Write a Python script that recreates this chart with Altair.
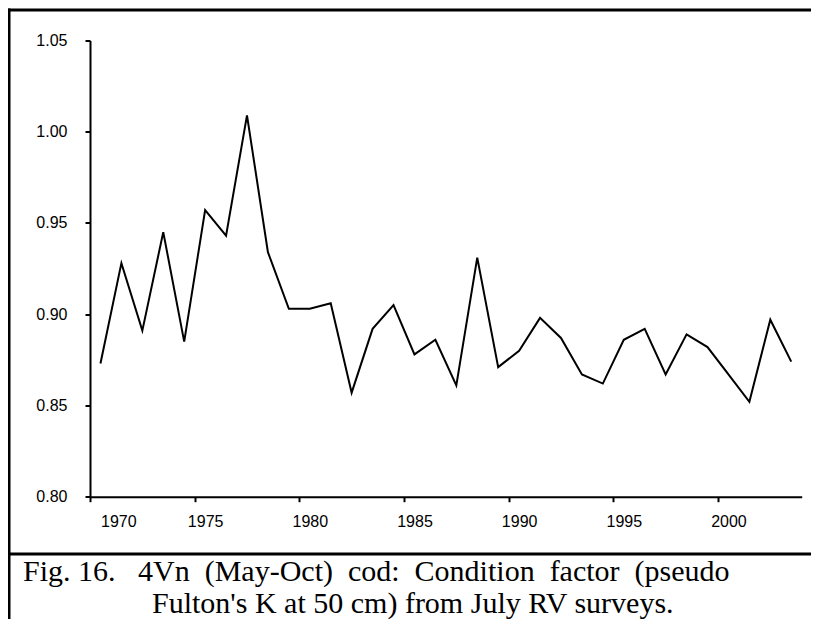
import altair as alt
import pandas as pd

years = list(range(1970, 2004))
k_values = [0.873, 0.928, 0.891, 0.945, 0.885, 0.957, 0.943, 1.009, 0.934, 0.903,
            0.903, 0.906, 0.857, 0.892, 0.905, 0.878, 0.886, 0.861, 0.931, 0.871,
            0.880, 0.898, 0.887, 0.867, 0.862, 0.886, 0.892, 0.867, 0.889, 0.882,
            0.867, 0.852, 0.897, 0.874]
y_ticks = [0.80, 0.85, 0.90, 0.95, 1.00, 1.05]
x_ticks = [1970, 1975, 1980, 1985, 1990, 1995, 2000]
# first caption line is justified in the source, hence the wider word gaps
G = "\u2002"
caption_lines = ["Fig. 16.\u2002 4Vn" + G + "(May-Oct)" + G + "cod:" + G + "Condition"
                 + G + "factor" + G + "(pseudo",
                 "Fulton's K at 50 cm) from July RV surveys."]

df = pd.DataFrame({"year": years, "k": k_values})
df["xpos"] = df["year"] + 0.5

W, H = 711.7, 456.2
AXFONT = "Liberation Sans, Arial, Helvetica"

line = alt.Chart(df).mark_line(color="black", strokeWidth=2).encode(
    x=alt.X("xpos:Q", scale=alt.Scale(domain=[1970, 2004], nice=False, zero=False),
            axis=alt.Axis(values=x_ticks, format="d", title=None, grid=False,
                          tickSize=5, labelOffset=10.5, labelPadding=12,
                          domainColor="black", domainWidth=2, tickColor="black",
                          tickWidth=2, labelColor="black", labelFontSize=16,
                          labelFont=AXFONT)),
    y=alt.Y("k:Q", scale=alt.Scale(domain=[0.80, 1.05], nice=False, zero=False),
            axis=alt.Axis(values=y_ticks, format=".2f", title=None, grid=False,
                          tickSize=5, labelPadding=18,
                          domainColor="black", domainWidth=2, tickColor="black",
                          tickWidth=2, labelColor="black", labelFontSize=16,
                          labelFont=AXFONT)),
)

# page frame (left edge, top edge, separator above the caption), in pixels
frame_df = pd.DataFrame({
    "fx1": [-81.0, -82.5, -81.0],
    "fx2": [-81.0, 722.0, 722.0],
    "fy1": [-32.0, -30.5, 513.5],
    "fy2": [590.0, -30.5, 513.5],
})
frame = alt.Chart(frame_df).mark_rule(color="black", strokeWidth=3).encode(
    x=alt.X("fx1:Q", scale=None), x2="fx2:Q",
    y=alt.Y("fy1:Q", scale=None), y2="fy2:Q")

cap_df = pd.DataFrame({"text": caption_lines, "xp": [-67, 62], "yp": [540, 572.5]})
caption = alt.Chart(cap_df).mark_text(
    align="left", baseline="alphabetic", font="Liberation Serif, Times New Roman",
    fontSize=30, color="black").encode(
    text="text:N", x=alt.X("xp:Q", scale=None), y=alt.Y("yp:Q", scale=None))

chart = alt.layer(line, frame, caption).properties(
    width=W, height=H,
    autosize=alt.AutoSizeParams(type="none"),
    padding={"left": 82, "top": 32.5, "right": 9.3, "bottom": 122.3},
).configure_view(stroke=None)

chart.save("out.html", embed_options={"renderer": "svg", "actions": False})
